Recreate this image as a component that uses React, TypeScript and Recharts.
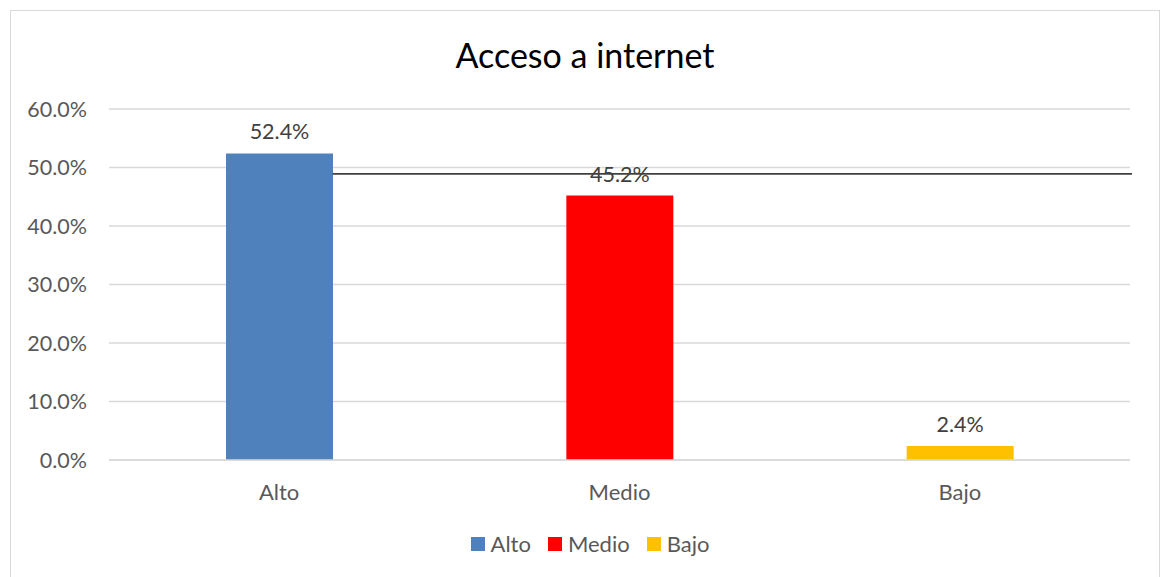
import React from "react";
import { Bar, BarChart, CartesianGrid, Cell, LabelList, ReferenceLine, XAxis, YAxis } from "recharts";

const categories = ["Alto", "Medio", "Bajo"];
const values = [52.4, 45.2, 2.4];
const colors = ["#4F81BD", "#FF0000", "#FFC000"];
const yTicks = [0, 10, 20, 30, 40, 50, 60];
const lineValue = 48.9;
// share of the plot width where the black line begins (right edge of "Alto")
const lineStartShare = 0.219;

const data = categories.map((name, i) => ({ name, value: values[i], idx: i }));

const font = "Lato, 'Open Sans', sans-serif";

function PartialLine(props: any) {
  const { x1, x2, y1 } = props;
  const start = x1 + (x2 - x1) * lineStartShare;
  return <line x1={start} x2={x2 + 2} y1={y1} y2={y1} stroke="#404040" strokeWidth={1.8} />;
}

export default function App() {
  return (
    <div style={{ position: "absolute", left: 0, top: 0, width: 1162, height: 577, background: "#fff", overflow: "hidden", fontFamily: font }}>
      <div style={{ position: "absolute", left: 10, top: 10, width: 1148, height: 600, border: "1px solid #d9d9d9" }} />
      <div style={{ position: "absolute", left: 10, width: 1150, top: 34, textAlign: "center", fontSize: 34, color: "#000" }}>
        Acceso a internet
      </div>
      <div style={{ position: "absolute", left: 0, top: 0 }}>
        <BarChart width={1162} height={577} data={data} margin={{ top: 109, right: 32, bottom: 87, left: 29 }}>
          <CartesianGrid stroke="#d9d9d9" strokeWidth={1.3} vertical={false} />
          <XAxis
            dataKey="name"
            axisLine={{ stroke: "#d9d9d9", strokeWidth: 1.3 }}
            tickLine={false}
            tickSize={0}
            tickMargin={24}
            tick={{ fill: "#595959", fontSize: 22, fontFamily: font }}
          />
          <YAxis
            width={80}
            domain={[0, 60]}
            ticks={yTicks}
            axisLine={false}
            tickLine={false}
            tickSize={0}
            tickMargin={22}
            tickFormatter={(v: number) => `${v.toFixed(1)}%`}
            tick={{ fill: "#595959", fontSize: 21.5, fontFamily: font }}
          />
          <ReferenceLine y={lineValue} shape={<PartialLine />} />
          <Bar dataKey="value" barSize={107} isAnimationActive={false}>
            {data.map((d) => (
              <Cell key={d.name} fill={colors[d.idx]} />
            ))}
            <LabelList
              dataKey="value"
              position="top"
              offset={14}
              formatter={(v: number) => `${v.toFixed(1)}%`}
              style={{ fill: "#404040", fontSize: 21.5, fontFamily: font }}
            />
          </Bar>
        </BarChart>
      </div>
      <div style={{ position: "absolute", left: 0, width: 1180, top: 530, display: "flex", justifyContent: "center", fontSize: 22, color: "#595959" }}>
        {categories.map((c, i) => (
          <div key={c} style={{ display: "flex", alignItems: "center", marginRight: i < categories.length - 1 ? 17 : 0 }}>
            <span style={{ width: 14, height: 14, background: colors[i], display: "inline-block", marginRight: 6 }} />
            <span>{c}</span>
          </div>
        ))}
      </div>
    </div>
  );
}
